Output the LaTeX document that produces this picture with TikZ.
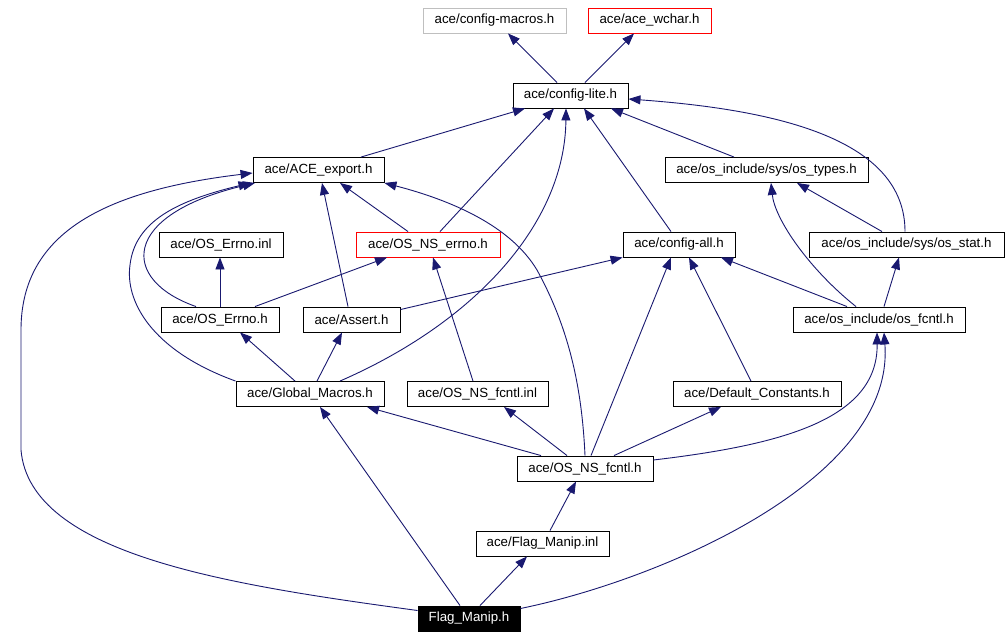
\documentclass[tikz,border=0pt]{standalone}
\usepackage{fontspec}
\setmainfont{Liberation Sans}
\usetikzlibrary{arrows.meta}
\definecolor{edgec}{RGB}{25,25,112}
\definecolor{grayb}{RGB}{191,191,191}
\begin{document}
\begin{tikzpicture}[x=1pt,y=-1pt,
 box/.style={draw=black, line width=0.9pt, minimum height=25pt, inner sep=0pt, font=\fontsize{13.3}{16}\selectfont},
 edge/.style={draw=edgec, line width=0.9pt, -{Triangle[length=12pt,width=9pt]}}]
\useasboundingbox[fill=white] (0,0) rectangle (1008,637);
% nodes
\node[box, minimum width=143pt, draw=grayb] (cm) at (494.5,20.5) {ace/config-macros.h};
\node[box, minimum width=123pt, draw=red] (wc) at (649.5,20.5) {ace/ace\_wchar.h};
\node[box, minimum width=115pt] (cl) at (570.5,95.5) {ace/config-lite.h};
\node[box, minimum width=131pt] (ae) at (318.5,170) {ace/ACE\_export.h};
\node[box, minimum width=203pt] (ot) at (766.5,170) {ace/os\_include/sys/os\_types.h};
\node[box, minimum width=124pt] (oei) at (221,244.5) {ace/OS\_Errno.inl};
\node[box, minimum width=144pt, draw=red] (ne) at (428,244.5) {ace/OS\_NS\_errno.h};
\node[box, minimum width=112pt] (ca) at (679,244.5) {ace/config-all.h};
\node[box, minimum width=195pt] (os) at (906.5,244.5) {ace/os\_include/sys/os\_stat.h};
\node[box, minimum width=118pt] (oe) at (220,319.5) {ace/OS\_Errno.h};
\node[box, minimum width=97pt] (as) at (351.5,319.5) {ace/Assert.h};
\node[box, minimum width=172pt] (of) at (879,319.5) {ace/os\_include/os\_fcntl.h};
\node[box, minimum width=148pt] (gm) at (310,394) {ace/Global\_Macros.h};
\node[box, minimum width=141pt] (nfi) at (477.5,394) {ace/OS\_NS\_fcntl.inl};
\node[box, minimum width=168pt] (dc) at (757,394) {ace/Default\_Constants.h};
\node[box, minimum width=136pt] (nf) at (585,468.5) {ace/OS\_NS\_fcntl.h};
\node[box, minimum width=133pt] (fmi) at (542.5,543.5) {ace/Flag\_Manip.inl};
\node[box, minimum width=102pt, fill=black, text=white] (fm) at (469,618.5) {Flag\_Manip.h};
% edges
\draw[edge] ([xshift=-13.5pt]cl.north) -- ([xshift=13.5pt]cm.south);
\draw[edge] ([xshift=14.5pt]cl.north) -- ([xshift=-15.5pt]wc.south);
\draw[edge] ([xshift=42.5pt]ae.north) -- ([xshift=-45.5pt]cl.south);
\draw[edge] ([xshift=12pt]ne.north) -- ([xshift=-16.5pt]cl.south);
\draw[edge] ([xshift=30pt]gm.north) .. controls (480,320) and (565,220) .. ([xshift=-4.5pt]cl.south);
\draw[edge] ([xshift=-8pt]ca.north) -- ([xshift=13.5pt]cl.south);
\draw[edge] ([xshift=-32.5pt]ot.north) -- ([xshift=40.5pt]cl.south);
\draw[edge] ([xshift=-1.5pt]os.north) .. controls (905,140) and (780,110) .. ([yshift=-3.5pt]cl.east);
\draw[edge] ([yshift=8pt]fm.west) .. controls (230,585) and (30,555) .. (21,450) -- (21,330) .. controls (21,230) and (110,190) .. ([yshift=-3pt]ae.west);
\draw[edge] ([xshift=-24pt]oe.north) .. controls (120,280) and (120,215) .. ([xshift=-63.5pt]ae.south);
\draw[edge] (gm.north west) .. controls (150,350) and (125,300) .. (130,265) .. controls (135,220) and (180,200) .. ([xshift=-68pt]ae.south);
\draw[edge] ([xshift=-3.5pt]as.north) -- ([xshift=3.5pt]ae.south);
\draw[edge] ([xshift=-20pt]ne.north) -- ([xshift=21.5pt]ae.south);
\draw[edge] (nf.north) .. controls (582,390) and (570,330) .. (537,270) .. controls (510,225) and (450,200) .. (ae.south east);
\draw[edge] (oe.north) -- (oe.north |- oei.south);
\draw[edge] ([xshift=35pt]oe.north) -- ([xshift=-41pt]ne.south);
\draw[edge] ([xshift=-4.5pt]nfi.north) -- ([xshift=5pt]ne.south);
\draw[edge] ([yshift=-3pt]as.north east) -- (ca.south west);
\draw[edge] ([xshift=6pt]nf.north) -- ([xshift=-8pt]ca.south);
\draw[edge] ([xshift=-6pt]dc.north) -- ([xshift=10pt]ca.south);
\draw[edge] ([xshift=-32pt]of.north) -- ([xshift=42pt]ca.south);
\draw[edge] ([xshift=-23pt]of.north) .. controls (810,270) and (775,220) .. ([xshift=4.5pt]ot.south);
\draw[edge] ([xshift=-24.5pt]os.north) -- ([xshift=30.5pt]ot.south);
\draw[edge] ([xshift=5pt]of.north) -- ([xshift=-7.5pt]os.south);
\draw[edge] ([xshift=-15pt]gm.north) -- ([xshift=20pt]oe.south);
\draw[edge] ([xshift=7pt]gm.north) -- ([xshift=-9.5pt]as.south);
\draw[edge] ([xshift=-44pt]nf.north) -- ([xshift=57pt]gm.south);
\draw[edge] ([xshift=-18pt]nf.north) -- ([xshift=26.5pt]nfi.south);
\draw[edge] ([xshift=29pt]nf.north) -- ([xshift=-36pt]dc.south);
\draw[edge] ([yshift=8.5pt]nf.east) .. controls (780,445) and (878,420) .. ([xshift=-2pt]of.south);
\draw[edge] ([yshift=10pt]fm.east) .. controls (660,580) and (895,480) .. ([xshift=5pt]of.south);
\draw[edge] ([xshift=7.5pt]fmi.north) -- ([xshift=-9pt]nf.south);
\draw[edge] ([xshift=11pt]fm.north) -- ([xshift=-15.5pt]fmi.south);
\draw[edge] ([xshift=-9pt]fm.north) -- ([xshift=10pt]gm.south);
\end{tikzpicture}
\end{document}
